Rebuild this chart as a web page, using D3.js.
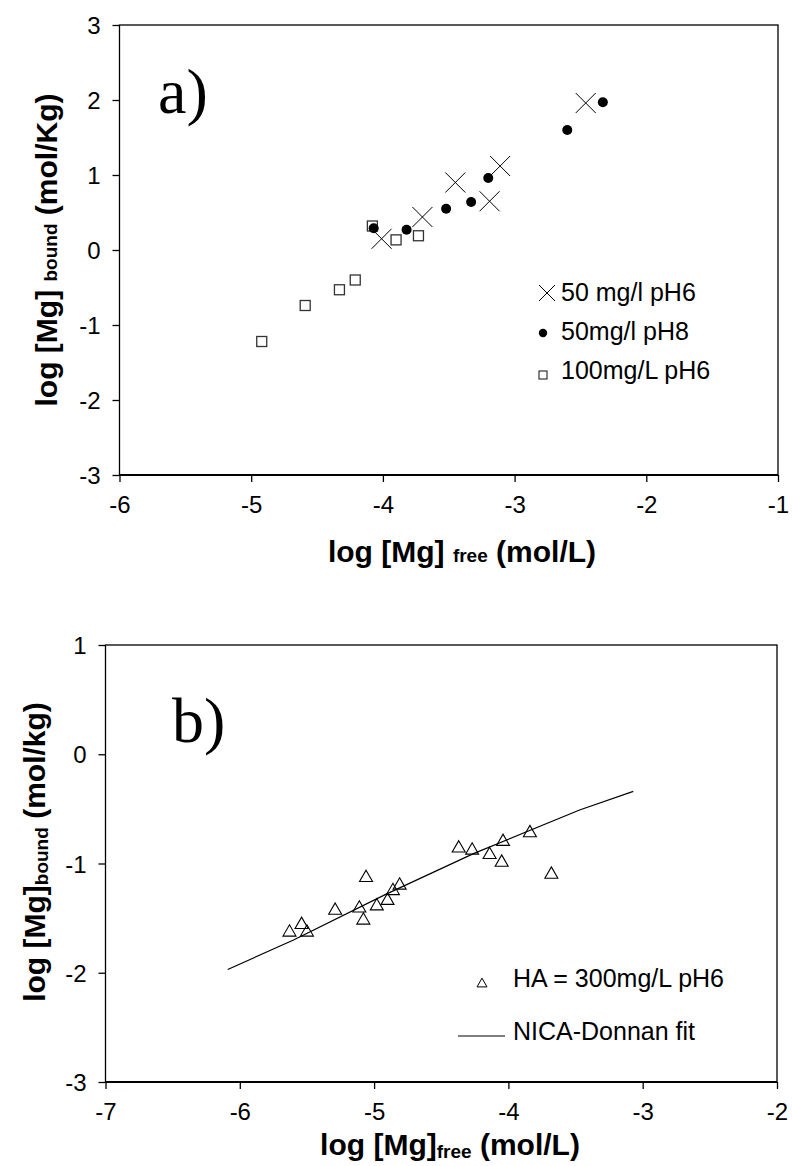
<!DOCTYPE html>
<html>
<head>
<meta charset="utf-8">
<script src="https://d3js.org/d3.v7.min.js"></script>
<style>
body { margin: 0; background: #fff; }
svg { display: block; font-family: "Liberation Sans", Arial, sans-serif; }
.tick text { font-size: 24px; fill: #000; }
.tick line { stroke: #000; stroke-width: 1.3; }
.domain { display: none; }
.title { font-weight: bold; font-size: 30px; }
.legend { font-size: 25px; }
.panel { font-family: "Liberation Serif", "Times New Roman", serif; font-size: 64px; }
</style>
</head>
<body>
<svg width="792" height="1166"></svg>
<script>
// panel a: [log Mg free, log Mg bound]
const ha50pH6 = [[-4.01, 0.15], [-3.70, 0.44], [-3.45, 0.90], [-3.19, 0.65], [-3.11, 1.12], [-2.46, 1.96]];
const ha50pH8 = [[-4.07, 0.29], [-3.82, 0.27], [-3.52, 0.55], [-3.33, 0.64], [-3.20, 0.96], [-2.60, 1.60], [-2.33, 1.97]];
const ha100pH6 = [[-4.92, -1.22], [-4.59, -0.74], [-4.33, -0.53], [-4.21, -0.40], [-4.08, 0.32], [-3.90, 0.135], [-3.73, 0.19]];
const legendA = ["50 mg/l pH6", "50mg/l pH8", "100mg/L pH6"];

// panel b
const ha300pH6 = [[-5.63, -1.63], [-5.54, -1.56], [-5.50, -1.63], [-5.29, -1.43], [-5.11, -1.41], [-5.08, -1.52],
  [-5.06, -1.13], [-4.98, -1.39], [-4.90, -1.34], [-4.86, -1.25], [-4.81, -1.20], [-4.37, -0.86], [-4.27, -0.88],
  [-4.14, -0.92], [-4.05, -0.99], [-4.04, -0.80], [-3.84, -0.72], [-3.68, -1.10]];
const nicaFit = [[-6.09, -1.97], [-5.60, -1.70], [-4.91, -1.28], [-4.26, -0.91], [-3.47, -0.51], [-3.07, -0.34]];
const legendB = ["HA = 300mg/L pH6", "NICA-Donnan fit"];

const ticksAx = [-6, -5, -4, -3, -2, -1], ticksAy = [-3, -2, -1, 0, 1, 2, 3];
const ticksBx = [-7, -6, -5, -4, -3, -2], ticksBy = [-3, -2, -1, 0, 1];

const svg = d3.select("svg");

const xA = d3.scaleLinear().domain([-6, -1]).range([119.5, 778]);
const yA = d3.scaleLinear().domain([-3, 3]).range([475, 25]);
const xB = d3.scaleLinear().domain([-7, -2]).range([105.5, 777]);
const yB = d3.scaleLinear().domain([-3, 1]).range([1082, 645]);

const fmt = d => String(d);

function frame(x, y, tx, ty) {
  const g = svg.append("g");
  g.append("g").attr("transform", `translate(0,${y.range()[0]})`)
    .call(d3.axisBottom(x).tickValues(tx).tickFormat(fmt).tickSize(7).tickSizeOuter(0).tickPadding(14));
  g.append("g").attr("transform", `translate(${x.range()[0]},0)`)
    .call(d3.axisLeft(y).tickValues(ty).tickFormat(fmt).tickSize(7).tickSizeOuter(0).tickPadding(12))
    .selectAll(".tick text").attr("dy", "0.36em");
  g.append("rect")
    .attr("x", x.range()[0]).attr("y", y.range()[1])
    .attr("width", x.range()[1] - x.range()[0]).attr("height", y.range()[0] - y.range()[1])
    .attr("fill", "none").attr("stroke", "#000").attr("stroke-width", 1.3);
  g.append("line")
    .attr("x1", x.range()[0]).attr("x2", x.range()[1])
    .attr("y1", y.range()[0]).attr("y2", y.range()[0])
    .attr("stroke", "#000").attr("stroke-width", 2.2);
  return g;
}

const cross = s => `M${-s},${-s}L${s},${s}M${-s},${s}L${s},${-s}`;
const tri = s => `M0,${-s * 0.58}L${s / 2},${s * 0.29}L${-s / 2},${s * 0.29}Z`;

// ---- panel a
frame(xA, yA, ticksAx, ticksAy);

svg.append("g").selectAll("rect").data(ha100pH6).join("rect")
  .attr("x", d => xA(d[0]) - 5).attr("y", d => yA(d[1]) - 5)
  .attr("width", 10).attr("height", 10)
  .attr("fill", "#fff").attr("stroke", "#333").attr("stroke-width", 1.3);

svg.append("g").selectAll("circle").data(ha50pH8).join("circle")
  .attr("cx", d => xA(d[0])).attr("cy", d => yA(d[1])).attr("r", 5).attr("fill", "#000");

svg.append("g").selectAll("path").data(ha50pH6).join("path")
  .attr("transform", d => `translate(${xA(d[0])},${yA(d[1])})`)
  .attr("d", cross(10)).attr("stroke", "#000").attr("stroke-width", 1);

svg.append("text").attr("class", "panel").attr("x", 158).attr("y", 113).text("a)");

const legA = svg.append("g").attr("class", "legend");
legA.append("path").attr("transform", "translate(547,293)").attr("d", cross(8))
  .attr("stroke", "#000").attr("stroke-width", 1);
legA.append("circle").attr("cx", 543).attr("cy", 333).attr("r", 4.2).attr("fill", "#000");
legA.append("rect").attr("x", 539).attr("y", 371).attr("width", 8).attr("height", 8)
  .attr("fill", "#fff").attr("stroke", "#333").attr("stroke-width", 1.2);
legA.selectAll("text").data(legendA).join("text")
  .attr("x", 561).attr("y", (d, i) => 301 + i * 39).text(d => d);

const tA = svg.append("text").attr("class", "title").attr("x", 462).attr("y", 562).attr("text-anchor", "middle");
tA.append("tspan").text("log [Mg] ");
tA.append("tspan").attr("font-size", 19).text("free");
tA.append("tspan").text(" (mol/L)");

const yTa = svg.append("text").attr("class", "title").attr("text-anchor", "middle")
  .attr("transform", "translate(57,250) rotate(-90)");
yTa.append("tspan").text("log [Mg] ");
yTa.append("tspan").attr("font-size", 19).text("bound");
yTa.append("tspan").text(" (mol/Kg)");

// ---- panel b
frame(xB, yB, ticksBx, ticksBy);

svg.append("path").datum(nicaFit)
  .attr("d", d3.line().x(d => xB(d[0])).y(d => yB(d[1])))
  .attr("fill", "none").attr("stroke", "#000").attr("stroke-width", 1.2);

svg.append("g").selectAll("path").data(ha300pH6).join("path")
  .attr("transform", d => `translate(${xB(d[0])},${yB(d[1])})`)
  .attr("d", tri(13)).attr("fill", "none").attr("stroke", "#000").attr("stroke-width", 1.1);

svg.append("text").attr("class", "panel").attr("x", 172).attr("y", 742).text("b)");

const legB = svg.append("g").attr("class", "legend");
legB.append("path").attr("transform", "translate(482,984)").attr("d", tri(10))
  .attr("fill", "none").attr("stroke", "#000").attr("stroke-width", 1);
legB.append("line").attr("x1", 458).attr("x2", 505).attr("y1", 1036).attr("y2", 1036)
  .attr("stroke", "#000").attr("stroke-width", 1);
legB.selectAll("text").data(legendB).join("text")
  .attr("x", 513).attr("y", (d, i) => 987 + i * 53).text(d => d);

const tB = svg.append("text").attr("class", "title").attr("x", 450).attr("y", 1155).attr("text-anchor", "middle");
tB.append("tspan").text("log [Mg]");
tB.append("tspan").attr("font-size", 19).attr("dy", 3).text("free");
tB.append("tspan").attr("dy", -3).text(" (mol/L)");

const yTb = svg.append("text").attr("class", "title").attr("text-anchor", "middle")
  .attr("transform", "translate(45,852) rotate(-90)");
yTb.append("tspan").text("log [Mg]");
yTb.append("tspan").attr("font-size", 19).attr("dy", 3).text("bound");
yTb.append("tspan").attr("dy", -3).text(" (mol/kg)");
</script>
</body>
</html>
